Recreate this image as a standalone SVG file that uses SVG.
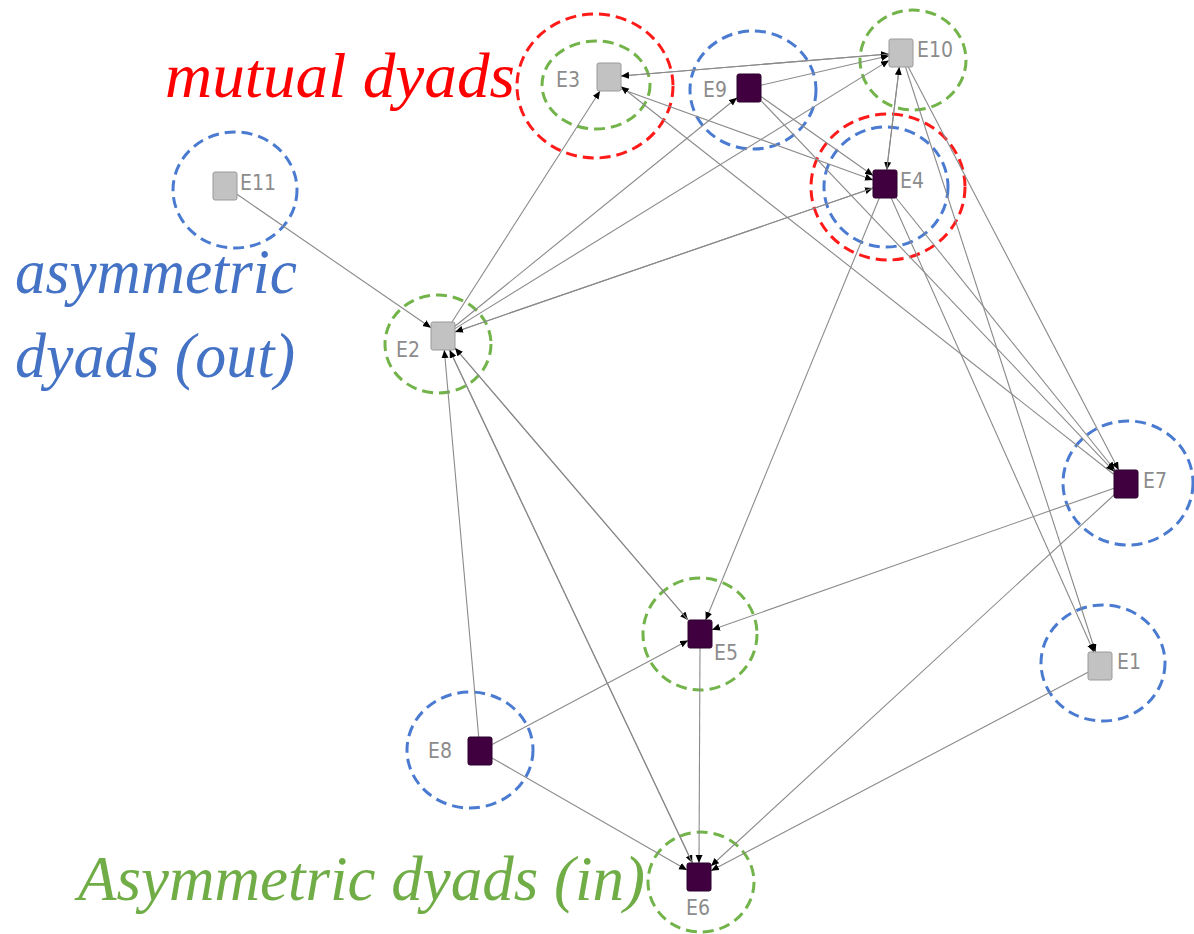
<svg xmlns="http://www.w3.org/2000/svg" width="1194" height="934" viewBox="0 0 1194 934">
<defs>
<marker id="ah" markerUnits="userSpaceOnUse" markerWidth="9" markerHeight="8" refX="8" refY="3.5" orient="auto"><path d="M0,0 L8,3.5 L0,7 z" fill="#000"/></marker>
<style>
.e{stroke:#8a8a8a;stroke-width:1.1;fill:none;marker-end:url(#ah)}
.ring{fill:none;stroke-width:3;stroke-dasharray:11 6}
.r{stroke:#ff1a1a}.b{stroke:#4a7bd0}.g{stroke:#72b34a}
.ng{fill:#c2c2c2;stroke:#9a9a9a;stroke-width:1}
.nd{fill:#400040;stroke:#2a002a;stroke-width:1}
.lb{font-family:"DejaVu Sans Condensed","DejaVu Sans",sans-serif;font-size:21px;fill:#8c8c8c}
.big{font-family:"Liberation Serif",serif;font-style:italic;font-size:64px}
</style>
</defs>
<rect width="1194" height="934" fill="#fff"/>
<g id="rings">
<ellipse class="ring b" cx="235" cy="190" rx="62" ry="58"/>
<ellipse class="ring r" cx="595" cy="86" rx="78" ry="72"/>
<ellipse class="ring g" cx="596" cy="85" rx="54" ry="44"/>
<ellipse class="ring b" cx="753" cy="90" rx="63" ry="59"/>
<ellipse class="ring g" cx="913" cy="60" rx="53" ry="50"/>
<ellipse class="ring r" cx="888" cy="187" rx="77" ry="73"/>
<ellipse class="ring b" cx="886" cy="187" rx="62" ry="60"/>
<ellipse class="ring g" cx="438" cy="344" rx="53" ry="49"/>
<ellipse class="ring b" cx="1128" cy="483" rx="65" ry="62"/>
<ellipse class="ring g" cx="700" cy="634" rx="57" ry="56"/>
<ellipse class="ring b" cx="470" cy="750" rx="63" ry="58"/>
<ellipse class="ring g" cx="701" cy="882" rx="53" ry="50"/>
<ellipse class="ring b" cx="1103" cy="663" rx="62" ry="58"/>
</g>
<g id="legend">
<text class="big" x="165" y="97" fill="#ff0000" textLength="350" lengthAdjust="spacingAndGlyphs">mutual dyads</text>
<text class="big" x="15" y="293" fill="#4472c4" textLength="282" lengthAdjust="spacingAndGlyphs">asymmetric</text>
<text class="big" x="15" y="377" fill="#4472c4" textLength="280" lengthAdjust="spacingAndGlyphs">dyads (out)</text>
<text class="big" x="78" y="900" fill="#70ad47" textLength="567" lengthAdjust="spacingAndGlyphs">Asymmetric dyads (in)</text>
</g>
<g id="connectors">
<line class="e" x1="237" y1="194.3" x2="431" y2="327.7"/>
<line class="e" x1="452" y1="322" x2="600" y2="91"/>
<line class="e" x1="455" y1="326.3" x2="737" y2="97.7"/>
<line class="e" x1="455" y1="328.6" x2="889" y2="60.4"/>
<line class="e" x1="455" y1="331.9" x2="873" y2="188.1"/>
<line class="e" x1="873" y1="188.1" x2="455" y2="331.9"/>
<line class="e" x1="621" y1="76" x2="889" y2="54"/>
<line class="e" x1="889" y1="54" x2="621" y2="76"/>
<line class="e" x1="761" y1="85.2" x2="889" y2="55.8"/>
<line class="e" x1="899.3" y1="67" x2="886.7" y2="170"/>
<line class="e" x1="886.7" y1="170" x2="899.3" y2="67"/>
<line class="e" x1="908.3" y1="67" x2="1118.7" y2="470"/>
<line class="e" x1="905.5" y1="67" x2="1095.5" y2="652"/>
<line class="e" x1="891.2" y1="198" x2="1093.8" y2="652"/>
<line class="e" x1="896.2" y1="198" x2="1114.8" y2="470"/>
<line class="e" x1="879.3" y1="198" x2="705.7" y2="620"/>
<line class="e" x1="761" y1="96.5" x2="873" y2="175.5"/>
<line class="e" x1="621" y1="89" x2="873" y2="180"/>
<line class="e" x1="1114" y1="474.5" x2="621" y2="86.5"/>
<line class="e" x1="761" y1="100.6" x2="1114" y2="471.4"/>
<line class="e" x1="1114" y1="488.2" x2="712" y2="629.8"/>
<line class="e" x1="1114" y1="495" x2="711" y2="866"/>
<line class="e" x1="1088" y1="672.3" x2="711" y2="870.7"/>
<line class="e" x1="492" y1="757.9" x2="687" y2="870.1"/>
<line class="e" x1="492" y1="744.6" x2="688" y2="640.4"/>
<line class="e" x1="478.7" y1="737" x2="444.3" y2="350"/>
<line class="e" x1="449.6" y1="350" x2="692.4" y2="863"/>
<line class="e" x1="692.4" y1="863" x2="449.6" y2="350"/>
<line class="e" x1="455" y1="348" x2="688" y2="620"/>
<line class="e" x1="688" y1="620" x2="455" y2="348"/>
<line class="e" x1="700" y1="648" x2="699" y2="863"/>
</g>
<g id="E1"><rect class="ng" x="1088" y="652" width="24" height="28" rx="2"/><text class="lb" x="1117" y="669">E1</text></g>
<g id="E2"><rect class="ng" x="431" y="322" width="24" height="28" rx="2"/><text class="lb" x="396" y="357">E2</text></g>
<g id="E3"><rect class="ng" x="597" y="63" width="24" height="28" rx="2"/><text class="lb" x="556" y="87">E3</text></g>
<g id="E4"><rect class="nd" x="873" y="170" width="24" height="28" rx="2"/><text class="lb" x="900" y="188">E4</text></g>
<g id="E5"><rect class="nd" x="688" y="620" width="24" height="28" rx="2"/><text class="lb" x="714" y="660">E5</text></g>
<g id="E6"><rect class="nd" x="687" y="863" width="24" height="28" rx="2"/><text class="lb" x="686" y="915">E6</text></g>
<g id="E7"><rect class="nd" x="1114" y="470" width="24" height="28" rx="2"/><text class="lb" x="1143" y="488">E7</text></g>
<g id="E8"><rect class="nd" x="468" y="737" width="24" height="28" rx="2"/><text class="lb" x="428" y="758">E8</text></g>
<g id="E9"><rect class="nd" x="737" y="74" width="24" height="28" rx="2"/><text class="lb" x="703" y="97">E9</text></g>
<g id="E10"><rect class="ng" x="889" y="39" width="24" height="28" rx="2"/><text class="lb" x="917" y="57">E10</text></g>
<g id="E11"><rect class="ng" x="213" y="172" width="24" height="28" rx="2"/><text class="lb" x="240" y="190">E11</text></g>
</svg>
